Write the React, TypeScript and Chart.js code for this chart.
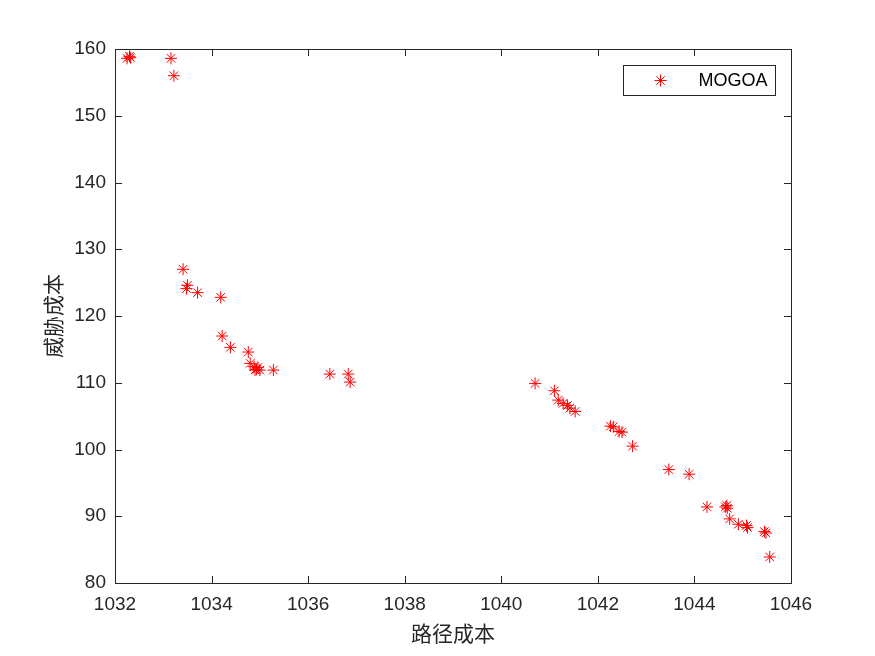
import React, { useEffect, useRef } from "react";
import { Chart, registerables } from "chart.js";

Chart.register(...registerables);

const seriesName = "MOGOA";
const xTitle = "路径成本";
const yTitle = "威胁成本";

const pathCost: number[] = [
  1032.30, 1032.25, 1032.32, 1033.16, 1033.22, 1033.41, 1033.50, 1033.48, 1033.71, 1034.19,
  1034.22, 1034.39, 1034.76, 1034.80, 1034.88, 1034.93, 1034.96, 1034.90, 1035.00, 1035.28,
  1036.45, 1036.83, 1036.87, 1040.70, 1041.10, 1041.18, 1041.28, 1041.37, 1041.42, 1041.53,
  1042.26, 1042.32, 1042.44, 1042.50, 1042.72, 1043.47, 1043.89, 1044.26, 1044.64, 1044.67,
  1044.68, 1044.73, 1044.91, 1045.10, 1045.08, 1045.45, 1045.48, 1045.56,
];
const threatCost: number[] = [
  158.9, 158.6, 158.7, 158.6, 156.0, 127.0, 124.6, 124.1, 123.5, 122.8,
  117.0, 115.3, 114.6, 112.9, 112.4, 112.0, 112.3, 111.9, 111.9, 111.9,
  111.3, 111.3, 110.1, 109.9, 108.8, 107.4, 106.9, 106.6, 106.2, 105.7,
  103.5, 103.4, 102.7, 102.6, 100.5, 97.0, 96.3, 91.4, 91.4, 91.6,
  91.2, 89.6, 88.8, 88.3, 88.6, 87.7, 87.5, 83.9,
];

const xMin = 1032, xMax = 1046, xStep = 2;
const yMin = 80, yMax = 160, yStep = 10;

const AXIS = "#262626";
const RED = "#ff0000";
const TICK_FONT = "Liberation Sans, Arial, sans-serif";
const CJK_FONT = "Noto Sans CJK SC, sans-serif";
const MARKER_R = 6;

function drawStar(ctx: CanvasRenderingContext2D, x: number, y: number, r: number) {
  ctx.beginPath();
  ctx.moveTo(x - r, y); ctx.lineTo(x + r, y);
  ctx.moveTo(x, y - r); ctx.lineTo(x, y + r);
  const d = r * Math.SQRT1_2;
  ctx.moveTo(x - d, y - d); ctx.lineTo(x + d, y + d);
  ctx.moveTo(x - d, y + d); ctx.lineTo(x + d, y - d);
  ctx.stroke();
}

const framePlugin = {
  id: "matlabFrame",
  afterDraw(chart: any) {
    const { ctx, chartArea: a, scales } = chart;
    ctx.save();
    ctx.strokeStyle = AXIS;
    ctx.lineWidth = 1;
    ctx.strokeRect(Math.round(a.left) + 0.5, Math.round(a.top) + 0.5, Math.round(a.right - a.left), Math.round(a.bottom - a.top));
    const tl = 7;
    ctx.beginPath();
    scales.x.ticks.forEach((t: any) => {
      const px = Math.round(scales.x.getPixelForValue(t.value)) + 0.5;
      ctx.moveTo(px, a.bottom); ctx.lineTo(px, a.bottom - tl);
      ctx.moveTo(px, a.top); ctx.lineTo(px, a.top + tl);
    });
    scales.y.ticks.forEach((t: any) => {
      const py = Math.round(scales.y.getPixelForValue(t.value)) + 0.5;
      ctx.moveTo(a.left, py); ctx.lineTo(a.left + tl, py);
      ctx.moveTo(a.right, py); ctx.lineTo(a.right - tl, py);
    });
    ctx.stroke();

    // legend
    const w = 152, h = 30;
    const lx = Math.round(a.right - 16 - w) + 0.5;
    const ly = Math.round(a.top + 16) + 0.5;
    ctx.fillStyle = "#ffffff";
    ctx.fillRect(lx, ly, w, h);
    ctx.strokeStyle = AXIS;
    ctx.strokeRect(lx, ly, w, h);
    ctx.strokeStyle = RED;
    drawStar(ctx, lx + 37, ly + h / 2, MARKER_R);
    ctx.fillStyle = "#000000";
    ctx.font = "18px " + TICK_FONT;
    ctx.textBaseline = "middle";
    ctx.textAlign = "left";
    ctx.fillText(seriesName, lx + 75, ly + h / 2 + 1);
    ctx.restore();
  },
};

export default function App() {
  const ref = useRef<HTMLCanvasElement | null>(null);
  useEffect(() => {
    document.body.style.margin = "0";
    const points = pathCost.map((x, i) => ({ x, y: threatCost[i] }));
    const chart = new Chart(ref.current as HTMLCanvasElement, {
      type: "scatter",
      data: {
        datasets: [
          {
            label: seriesName,
            data: points,
            pointStyle: "star",
            pointRadius: MARKER_R,
            borderColor: RED,
            backgroundColor: RED,
            borderWidth: 1,
            pointHoverRadius: MARKER_R,
          },
        ],
      },
      options: {
        animation: false,
        responsive: false,
        devicePixelRatio: 1,
        events: [],
        layout: { padding: { top: 49, right: 84, left: 0, bottom: 0 } },
        plugins: { legend: { display: false }, tooltip: { enabled: false } },
        scales: {
          x: {
            type: "linear",
            min: xMin,
            max: xMax,
            afterFit: (s: any) => { s.height = 73; },
            ticks: {
              stepSize: xStep, color: AXIS, padding: 10, maxRotation: 0,
              font: { family: TICK_FONT, size: 19 },
              callback: (v: any) => String(v),
            },
            grid: { display: false, drawTicks: false },
            border: { display: false },
            title: { display: true, text: xTitle, color: AXIS, font: { family: CJK_FONT, size: 21 }, padding: { top: 0, bottom: 10 } },
          },
          y: {
            type: "linear",
            min: yMin,
            max: yMax,
            afterFit: (s: any) => { s.width = 115; },
            ticks: {
              stepSize: yStep, color: AXIS, padding: 9,
              font: { family: TICK_FONT, size: 19 },
              callback: (v: any) => String(v),
            },
            grid: { display: false, drawTicks: false },
            border: { display: false },
            title: { display: true, text: yTitle, color: AXIS, font: { family: CJK_FONT, size: 21 }, padding: { top: 40, bottom: 0 } },
          },
        },
      },
      plugins: [framePlugin],
    });
    return () => chart.destroy();
  }, []);
  return (
    <div style={{ position: "absolute", left: 0, top: 0, width: 875, height: 656, background: "#fff" }}>
      <canvas ref={ref} width={875} height={656} style={{ width: 875, height: 656, display: "block" }} />
    </div>
  );
}
